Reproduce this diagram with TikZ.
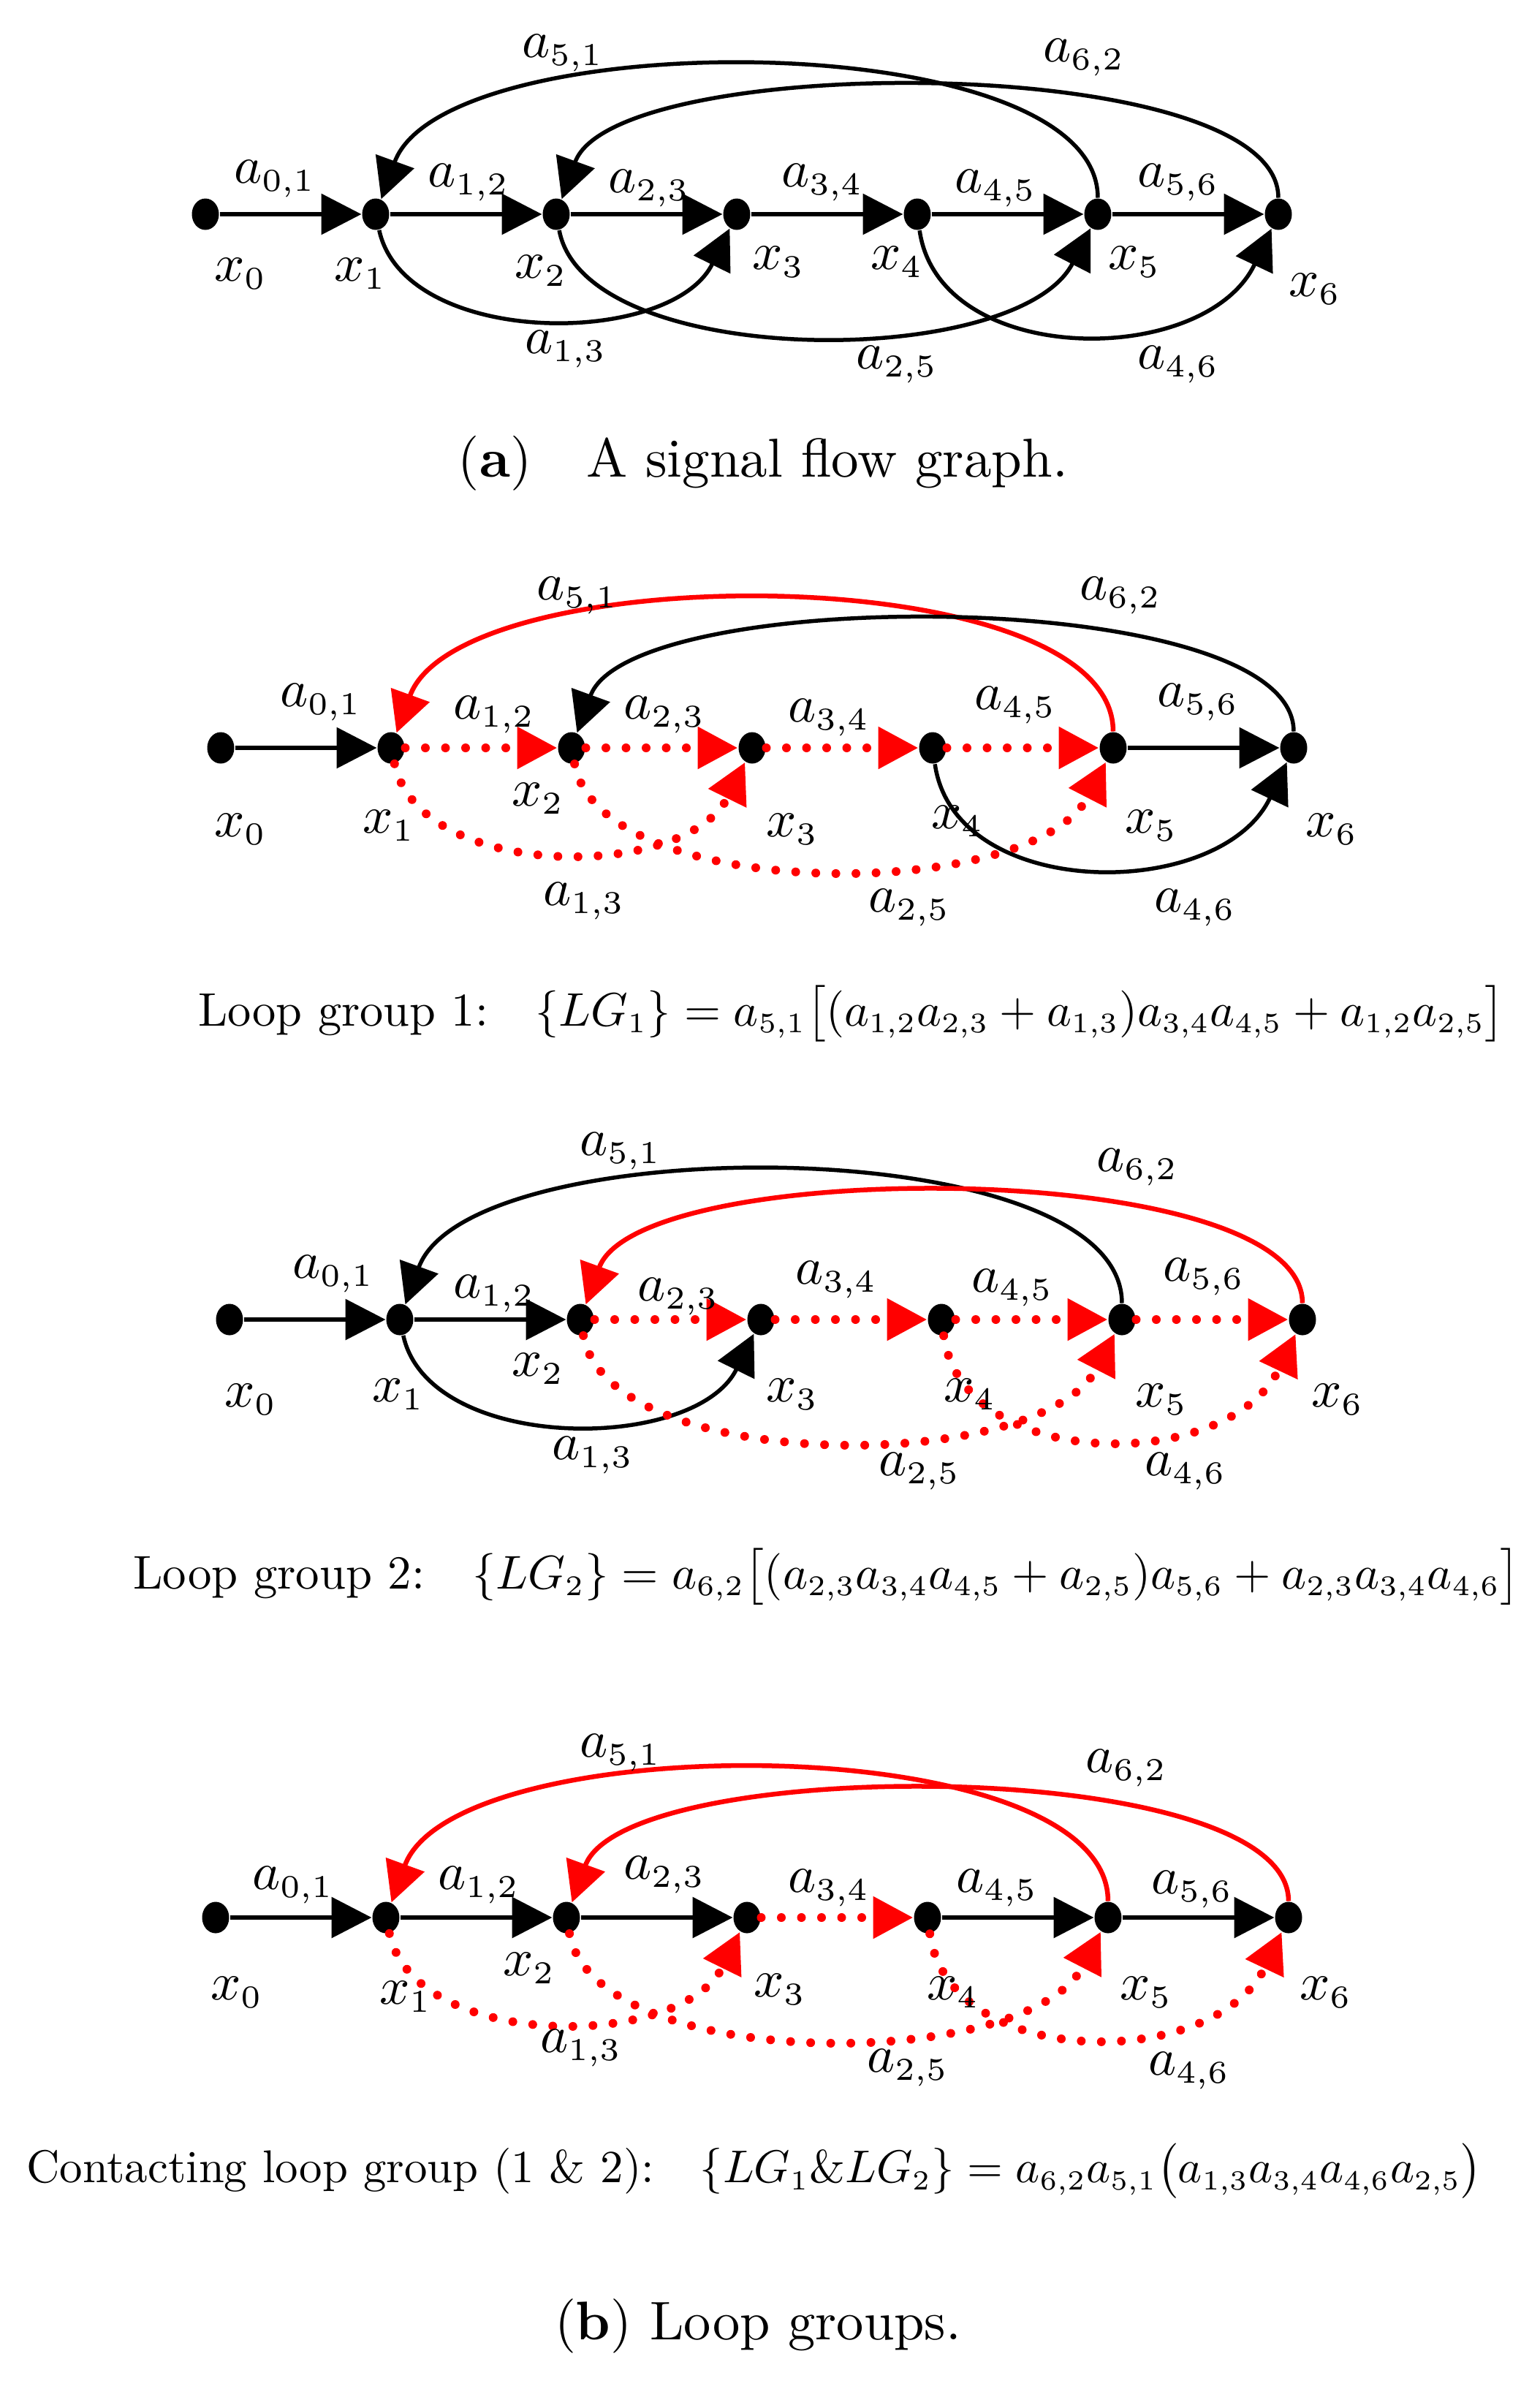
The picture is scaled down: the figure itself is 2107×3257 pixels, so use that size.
\documentclass[tikz,border=0pt]{standalone}
\usepackage{graphicx}
\usetikzlibrary{arrows.meta,shapes.geometric}
\DeclareMathSizes{10}{10}{6}{5}
\tikzset{
  vtx/.style={ellipse,fill=black,inner sep=0pt,minimum width=7.4pt,minimum height=8.6pt},
  lbl/.style={inner sep=0pt},
  txt/.style={inner sep=0pt},
  bl/.style={draw=black,line width=1.3pt,-{Triangle[length=11pt,width=11pt]}},
  blarc/.style={draw=black,line width=1.1pt,-{Triangle[length=11pt,width=11pt]}},
  rdarc/.style={draw=red,line width=1.3pt,-{Triangle[length=11pt,width=11pt]}},
  rdot/.style={draw=red,line width=2.4pt,line cap=round,dash pattern=on 0pt off 5.5pt,-{Triangle[length=11pt,width=11pt]}},
}
\newcommand\sfgraph[1]{%
  \node[vtx] (#1x0) at (0,0) {};
  \node[vtx] (#1x1) at (233,0) {};
  \node[vtx] (#1x2) at (480,0) {};
  \node[vtx] (#1x3) at (727,0) {};
  \node[vtx] (#1x4) at (974,0) {};
  \node[vtx] (#1x5) at (1221,0) {};
  \node[vtx] (#1x6) at (1468,0) {};
  \draw[e01] (#1x0) -- (#1x1);
  \draw[e12] (#1x1) -- (#1x2);
  \draw[e23] (#1x2) -- (#1x3);
  \draw[e34] (#1x3) -- (#1x4);
  \draw[e45] (#1x4) -- (#1x5);
  \draw[e56] (#1x5) -- (#1x6);
  \draw[e51] (#1x5) .. controls +(0,-261) and +(95,-261) .. (#1x1);
  \draw[e62] (#1x6) .. controls +(0,-223) and +(81,-223) .. (#1x2);
  \draw[e13] (#1x1) .. controls +(40,183) and +(-90,183) .. (#1x3);
  \draw[e25] (#1x2) .. controls +(40,214) and +(-110,214) .. (#1x5);
  \draw[e46] (#1x4) .. controls +(30,211) and +(-100,211) .. (#1x6);
}
\newcommand\lb[3]{\node[lbl] (#1) at (#2) {\scalebox{1.45}{$#3$}};}
\begin{document}
\begin{tikzpicture}[x=0.2pt,y=-0.2pt]
\fill[white] (0,0) rectangle (2107,3257);
\useasboundingbox (0,0) rectangle (2107,3257);

% ---------- panel (a)
\begin{scope}[shift={(281,293)},
  e01/.style=bl,e12/.style=bl,e23/.style=bl,e34/.style=bl,e45/.style=bl,e56/.style=bl,
  e51/.style=blarc,e62/.style=blarc,e13/.style=blarc,e25/.style=blarc,e46/.style=blarc]
\sfgraph{a}
\lb{a-51}{489,-220}{a_{5,1}}
\lb{a-62}{1202,-214}{a_{6,2}}
\lb{a-01}{95,-48}{a_{0,1}}
\lb{a-12}{360,-43}{a_{1,2}}
\lb{a-23}{607,-35}{a_{2,3}}
\lb{a-34}{844,-43}{a_{3,4}}
\lb{a-45}{1081,-35}{a_{4,5}}
\lb{a-56}{1331,-43}{a_{5,6}}
\lb{a-x0}{48,81}{x_0}
\lb{a-x1}{212,81}{x_1}
\lb{a-x2}{459,77}{x_2}
\lb{a-x3}{784,65}{x_3}
\lb{a-x4}{946,65}{x_4}
\lb{a-x5}{1271,65}{x_5}
\lb{a-x6}{1518,102}{x_6}
\lb{a-13}{493,185}{a_{1,3}}
\lb{a-25}{946,206}{a_{2,5}}
\lb{a-46}{1331,206}{a_{4,6}}
\end{scope}
\node[txt] (capa) at (1044,634) {\resizebox{166.8pt}{!}{(\textbf{a})\quad A signal flow graph.}};

% ---------- panel (b1)
\begin{scope}[shift={(302,1023)},
  e01/.style=bl,e12/.style=rdot,e23/.style=rdot,e34/.style=rdot,e45/.style=rdot,e56/.style=bl,
  e51/.style=rdarc,e62/.style=blarc,e13/.style=rdot,e25/.style=rdot,e46/.style=blarc]
\sfgraph{b}
\lb{b-51}{488,-208}{a_{5,1}}
\lb{b-62}{1231,-208}{a_{6,2}}
\lb{b-01}{137,-62}{a_{0,1}}
\lb{b-12}{374,-45}{a_{1,2}}
\lb{b-23}{607,-45}{a_{2,3}}
\lb{b-34}{832,-41}{a_{3,4}}
\lb{b-45}{1087,-58}{a_{4,5}}
\lb{b-56}{1337,-62}{a_{5,6}}
\lb{b-x0}{27,111}{x_0}
\lb{b-x1}{230,106}{x_1}
\lb{b-x2}{434,69}{x_2}
\lb{b-x3}{782,111}{x_3}
\lb{b-x4}{1008,100}{x_4}
\lb{b-x5}{1273,106}{x_5}
\lb{b-x6}{1520,111}{x_6}
\lb{b-13}{497,210}{a_{1,3}}
\lb{b-25}{942,219}{a_{2,5}}
\lb{b-46}{1333,219}{a_{4,6}}
\end{scope}
\node[txt] (f1) at (1165,1387) {\resizebox{357.4pt}{!}{Loop group 1:\quad $\{LG_1\} = a_{5,1}\big[(a_{1,2}a_{2,3} + a_{1,3})a_{3,4}a_{4,5} + a_{1,2}a_{2,5}\big]$}};

% ---------- panel (b2)
\begin{scope}[shift={(314,1805)},
  e01/.style=bl,e12/.style=bl,e23/.style=rdot,e34/.style=rdot,e45/.style=rdot,e56/.style=rdot,
  e51/.style=blarc,e62/.style=rdarc,e13/.style=blarc,e25/.style=rdot,e46/.style=rdot]
\sfgraph{c}
\lb{c-51}{535,-230}{a_{5,1}}
\lb{c-62}{1242,-208}{a_{6,2}}
\lb{c-01}{142,-62}{a_{0,1}}
\lb{c-12}{362,-35}{a_{1,2}}
\lb{c-23}{614,-31}{a_{2,3}}
\lb{c-34}{830,-54}{a_{3,4}}
\lb{c-45}{1071,-43}{a_{4,5}}
\lb{c-56}{1333,-58}{a_{5,6}}
\lb{c-x0}{29,109}{x_0}
\lb{c-x1}{231,102}{x_1}
\lb{c-x2}{422,67}{x_2}
\lb{c-x3}{770,102}{x_3}
\lb{c-x4}{1013,102}{x_4}
\lb{c-x5}{1275,109}{x_5}
\lb{c-x6}{1516,109}{x_6}
\lb{c-13}{497,186}{a_{1,3}}
\lb{c-25}{944,208}{a_{2,5}}
\lb{c-46}{1308,208}{a_{4,6}}
\end{scope}
\node[txt] (f2) at (1131,2157) {\resizebox{379.4pt}{!}{Loop group 2:\quad $\{LG_2\} = a_{6,2}\big[(a_{2,3}a_{3,4}a_{4,5} + a_{2,5})a_{5,6} + a_{2,3}a_{3,4}a_{4,6}\big]$}};

% ---------- panel (b3)
\begin{scope}[shift={(295,2623)},
  e01/.style=bl,e12/.style=bl,e23/.style=bl,e34/.style=rdot,e45/.style=bl,e56/.style=bl,
  e51/.style=rdarc,e62/.style=rdarc,e13/.style=rdot,e25/.style=rdot,e46/.style=rdot]
\sfgraph{d}
\lb{d-51}{554,-225}{a_{5,1}}
\lb{d-62}{1246,-204}{a_{6,2}}
\lb{d-01}{106,-44}{a_{0,1}}
\lb{d-12}{360,-44}{a_{1,2}}
\lb{d-23}{614,-58}{a_{2,3}}
\lb{d-34}{839,-40}{a_{3,4}}
\lb{d-45}{1069,-40}{a_{4,5}}
\lb{d-56}{1336,-38}{a_{5,6}}
\lb{d-x0}{29,102}{x_0}
\lb{d-x1}{260,108}{x_1}
\lb{d-x2}{429,69}{x_2}
\lb{d-x3}{772,98}{x_3}
\lb{d-x4}{1009,102}{x_4}
\lb{d-x5}{1273,102}{x_5}
\lb{d-x6}{1519,102}{x_6}
\lb{d-13}{500,179}{a_{1,3}}
\lb{d-25}{947,206}{a_{2,5}}
\lb{d-46}{1332,210}{a_{4,6}}
\end{scope}
\node[txt] (f3) at (1032,2970) {\resizebox{398.2pt}{!}{Contacting loop group (1 \& 2):\quad $\{LG_1\&LG_2\} = a_{6,2}a_{5,1}\big(a_{1,3}a_{3,4}a_{4,6}a_{2,5}\big)$}};
\node[txt] (capb) at (1037,3182) {\resizebox{111.2pt}{!}{(\textbf{b}) Loop groups.}};
\end{tikzpicture}
\end{document}
